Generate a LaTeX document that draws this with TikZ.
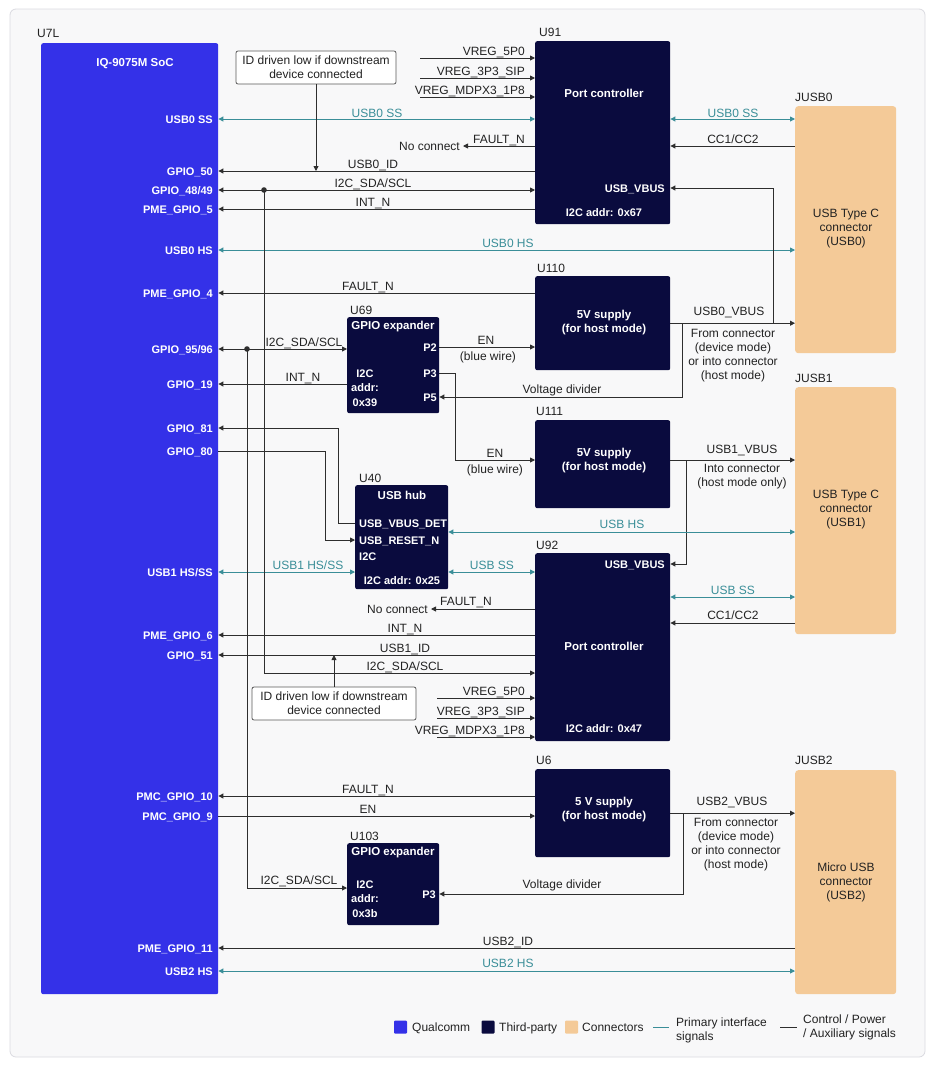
\documentclass[tikz,border=0pt]{standalone}
\usepackage{fontspec}
\setmainfont{Liberation Sans}
\usetikzlibrary{arrows.meta}

\definecolor{socblue}{HTML}{3431E8}
\definecolor{chipnavy}{HTML}{0A0B3E}
\definecolor{jackpeach}{HTML}{F4CA98}
\definecolor{sigteal}{HTML}{3A8E98}
\definecolor{sigdark}{HTML}{2E2E2E}
\definecolor{txtdark}{HTML}{222222}
\definecolor{panelfill}{HTML}{F8F8F9}
\definecolor{panelrim}{HTML}{DADAE0}
\definecolor{calloutrim}{HTML}{5A5A5A}

\begin{document}
\begin{tikzpicture}[x=1pt, y=-1pt, >={Triangle[length=5pt,width=5pt]},
  every node/.style={font=\fontsize{12}{14}\selectfont, text=txtdark, inner sep=0pt},
  lbl/.style={text height=10pt, text depth=2pt},
  hst/.style={lbl, text=sigteal},
  desig/.style={lbl, anchor=west},
  socpin/.style={lbl, anchor=east, text=white, font=\fontsize{11}{13}\selectfont\bfseries},
  inw/.style={lbl, text=white, font=\fontsize{11}{13}\selectfont\bfseries},
  ttl/.style={text=white, align=center, font=\fontsize{11.5}{14}\selectfont\bfseries},
  chip/.style={fill=chipnavy, rounded corners=2pt, anchor=north west},
  jack/.style={fill=jackpeach, rounded corners=3pt, anchor=north west},
  wire/.style={draw=sigdark, line width=0.9pt},
  hsl/.style={draw=sigteal, line width=0.9pt},
  callout/.style={draw=calloutrim, line width=0.8pt, fill=white, rounded corners=2pt, align=center,
    minimum width=160pt, minimum height=33pt}]

\useasboundingbox (0,0) rectangle (938,1066);
\filldraw[fill=panelfill, draw=panelrim, line width=0.8pt, rounded corners=6pt] (10,9) rectangle (925,1057);

% blocks
\node[fill=socblue, rounded corners=2pt, anchor=north west, minimum width=177pt, minimum height=951pt] (soc) at (41,43) {};
\node[chip, minimum width=135pt, minimum height=183pt] (u91) at (535,41) {};
\node[chip, minimum width=135pt, minimum height=94pt] (u110) at (535,276) {};
\node[chip, minimum width=92pt, minimum height=96pt] (u69) at (347,317) {};
\node[chip, minimum width=135pt, minimum height=88pt] (u111) at (535,420) {};
\node[chip, minimum width=93pt, minimum height=104pt] (u40) at (355,485) {};
\node[chip, minimum width=135pt, minimum height=188pt] (u92) at (535,553) {};
\node[chip, minimum width=135pt, minimum height=88pt] (u6) at (535,769) {};
\node[chip, minimum width=92pt, minimum height=82pt] (u103) at (347,843) {};
\node[jack, minimum width=101pt, minimum height=247pt] (jusb0) at (795,106) {};
\node[jack, minimum width=101pt, minimum height=247pt] (jusb1) at (795,387) {};
\node[jack, minimum width=101pt, minimum height=224pt] (jusb2) at (795,770) {};

\node[desig] (n7l) at (37,33) {U7L};
\node[desig] (n91) at (539,32) {U91};
\node[desig] (n110) at (537,268) {U110};
\node[desig] (n69) at (350,310) {U69};
\node[desig] (n111) at (536,411) {U111};
\node[desig] (n40) at (359,478) {U40};
\node[desig] (n92) at (536,545) {U92};
\node[desig] (n6) at (536,760) {U6};
\node[desig] (n103) at (350,836) {U103};
\node[desig] (nj0) at (795,97) {JUSB0};
\node[desig] (nj1) at (795,378) {JUSB1};
\node[desig] (nj2) at (795,760) {JUSB2};

\node[ttl] (tsoc) at (135,64) {IQ-9075M SoC};
\node[ttl] (t91) at (604,93) {Port controller};
\node[ttl] (t110) at (604,323) {5V supply\\(for host mode)};
\node[ttl] (t69) at (393,327) {GPIO expander};
\node[ttl] (t111) at (604,461) {5V supply\\(for host mode)};
\node[ttl] (t40) at (402,495) {USB hub};
\node[ttl] (t92) at (604,646) {Port controller};
\node[ttl] (t6) at (604,810) {5 V supply\\(for host mode)};
\node[ttl] (t103) at (393,853) {GPIO expander};

\node[inw] (a91) at (604,212) {I2C addr: 0x67};
\node[inw] (a40) at (402,580) {I2C addr: 0x25};
\node[inw] (a92) at (604,728) {I2C addr: 0x47};
\node[ttl, font=\fontsize{11}{14.5}\selectfont\bfseries, anchor=west] (a69) at (351,388) {I2C\\addr:\\0x39};
\node[ttl, font=\fontsize{11}{14.5}\selectfont\bfseries, anchor=west] (a103) at (351,899) {I2C\\addr:\\0x3b};
\node[inw, anchor=east] (l91v) at (665,188) {USB\_VBUS};
\node[inw, anchor=east] (l92v) at (665,564) {USB\_VBUS};
\node[inw, anchor=east] (lp2) at (437,347) {P2};
\node[inw, anchor=east] (lp3) at (437,373) {P3};
\node[inw, anchor=east] (lp5) at (437,397) {P5};
\node[inw, anchor=east] (lq3) at (436,894) {P3};
\node[inw, anchor=west] (l40a) at (359,523) {USB\_VBUS\_DET};
\node[inw, anchor=west] (l40b) at (359,540) {USB\_RESET\_N};
\node[inw, anchor=west] (l40c) at (359,556) {I2C};

\node[align=center] (c0) at (846,229) {USB Type C\\connector\\(USB0)};
\node[align=center] (c1) at (846,510) {USB Type C\\connector\\(USB1)};
\node[align=center] (c2) at (846,882) {Micro USB\\connector\\(USB2)};

\foreach \nm/\yy/\txt in {pusb0ss/119/{USB0 SS}, p50/171/GPIO\_50, p48/190/{GPIO\_48/49},
    p5/209/PME\_GPIO\_5, pusb0hs/250/{USB0 HS}, p4/293/PME\_GPIO\_4, p95/349/{GPIO\_95/96},
    p19/384/GPIO\_19, p81/428/GPIO\_81, p80/451/GPIO\_80, pusb1/572/{USB1 HS/SS},
    p6/635/PME\_GPIO\_6, p51/655/GPIO\_51, p10/796/PMC\_GPIO\_10, p9/816/PMC\_GPIO\_9,
    p11/948/PME\_GPIO\_11, pusb2/971/{USB2 HS}}
  \node[socpin] (\nm) at (213,\yy) {\txt};

% U91 port controller
\foreach \yy/\txt [count=\i] in {58/VREG\_5P0, 78/VREG\_3P3\_SIP, 97/VREG\_MDPX3\_1P8} {
  \coordinate (va\i) at (420,\yy);
  \draw[wire,->] (va\i) -- (u91.west |- va\i);
  \node[lbl, anchor=east] (vla\i) at (525,{\yy-7}) {\txt};
}
\draw[hsl,<->] (soc.east |- pusb0ss) -- (u91.west |- pusb0ss);
\node[hst] (lss0) at (377,113) {USB0 SS};
\node[lbl, anchor=east, inner xsep=3pt] (nc1) at (463,146) {No connect};
\draw[wire,->] (u91.west |- nc1) -- (nc1.east);
\node[lbl] (lf0) at (499,139) {FAULT\_N};
\draw[hsl,<->] (u91.east |- pusb0ss) -- (jusb0.west |- pusb0ss);
\node[hst] (lss0b) at (733,113) {USB0 SS};
\draw[wire,->] (jusb0.west |- nc1) -- (u91.east |- nc1);
\node[lbl] (lcc0) at (733,139) {CC1/CC2};
\node[callout] (call0) at (316,67.5) {ID driven low if downstream\\device connected};
\draw[wire,->] (u91.west |- p50) -- (soc.east |- p50);
\draw[wire,->] (call0.south) -- (call0.south |- p50);
\node[lbl] (lid0) at (373,164) {USB0\_ID};
\draw[wire,<->] (soc.east |- p48) -- (u91.west |- p48);
\coordinate (j48) at (264,190);
\fill[sigdark] (j48) circle[radius=2.8pt];
\node[lbl] (li2c0) at (373,183) {I2C\_SDA/SCL};
\draw[wire,->] (u91.west |- p5) -- (soc.east |- p5);
\node[lbl] (lint0) at (373,202) {INT\_N};
\draw[hsl,<->] (soc.east |- pusb0hs) -- (jusb0.west |- pusb0hs);
\node[hst] (lhs0) at (508,243) {USB0 HS};

% U110 supply
\draw[wire,->] (u110.west |- p4) -- (soc.east |- p4);
\node[lbl] (lf110) at (368,286) {FAULT\_N};
\draw[wire,->] (u110.east) -- (jusb0.west |- u110.east);
\node[lbl] (lvb0) at (729,311) {USB0\_VBUS};
\coordinate (t0a) at (682,323);
\coordinate (t0b) at (773,323);
\draw[wire,->] (t0a) |- (u69.east |- lp5);
\draw[wire,->] (t0b) |- (u91.east |- l91v);
\node[lbl] (lvd0) at (562,389) {Voltage divider};
\node[align=center] (lm0) at (733,356) {From connector\\(device mode)\\or into connector\\(host mode)};

% U69 expander
\draw[wire,<->] (soc.east |- p95) -- (u69.west |- p95);
\coordinate (j95) at (247,349);
\fill[sigdark] (j95) circle[radius=2.8pt];
\node[lbl] (li2c69) at (304,342) {I2C\_SDA/SCL};
\draw[wire,->] (u69.west |- p19) -- (soc.east |- p19);
\node[lbl] (lint69) at (303,377) {INT\_N};
\draw[wire,->] (u69.east |- lp2) -- (u110.west |- lp2);
\node[lbl] (len0) at (486,340) {EN};
\node[lbl] (lbw0) at (488,356) {(blue wire)};
\coordinate (b3) at (455,460);
\draw[wire,->] (u69.east |- lp3) -| (b3) -- (u111.west |- b3);
\node[lbl] (len1) at (495,453) {EN};
\node[lbl] (lbw1) at (495,469) {(blue wire)};

% U111 supply
\draw[wire,->] (u111.east |- b3) -- (jusb1.west |- b3);
\node[lbl] (lvb1) at (742,449) {USB1\_VBUS};
\coordinate (t1) at (686,460);
\draw[wire,->] (t1) |- (u92.east |- l92v);
\node[align=center] (lm1) at (742,477) {Into connector\\(host mode only)};

% U40 hub
\coordinate (b81) at (338,428);
\coordinate (b80) at (325,540);
\draw[wire,->] (u40.west |- l40a) -| (b81) -- (soc.east |- p81);
\draw[wire,->] (soc.east |- p80) -| (b80) -- (u40.west |- l40b);
\draw[hsl,<->] (soc.east |- pusb1) -- (u40.west |- pusb1);
\node[hst] (lhs1) at (308,565) {USB1 HS/SS};
\draw[hsl,<->] (u40.east |- pusb1) -- (u92.west |- pusb1);
\node[hst] (lss1) at (492,565) {USB SS};
\coordinate (hsrow) at (622,532);
\draw[hsl,<->] (u40.east |- hsrow) -- (jusb1.west |- hsrow);
\node[hst] (lhs1b) at (622,524) {USB HS};

% U92 port controller
\coordinate (ssrow) at (733,597);
\coordinate (ccrow) at (733,623);
\draw[hsl,<->] (u92.east |- ssrow) -- (jusb1.west |- ssrow);
\node[hst] (lss1b) at (733,590) {USB SS};
\draw[wire,->] (jusb1.west |- ccrow) -- (u92.east |- ccrow);
\node[lbl] (lcc1) at (733,615) {CC1/CC2};
\node[lbl, anchor=east, inner xsep=3pt] (nc2) at (431,609) {No connect};
\draw[wire,->] (u92.west |- nc2) -- (nc2.east);
\node[lbl] (lf92) at (466,601) {FAULT\_N};
\draw[wire,->] (u92.west |- p6) -- (soc.east |- p6);
\node[lbl] (lint92) at (405,628) {INT\_N};
\draw[wire,->] (u92.west |- p51) -- (soc.east |- p51);
\node[lbl] (lid1) at (405,648) {USB1\_ID};
\node[callout, minimum width=164pt] (call1) at (334,703.5) {ID driven low if downstream\\device connected};
\draw[wire,->] (call1.north) -- (call1.north |- p51);
\coordinate (i2crow) at (405,673);
\draw[wire,->] (j48) |- (u92.west |- i2crow);
\node[lbl] (li2c92) at (405,666) {I2C\_SDA/SCL};
\foreach \yy/\txt [count=\i] in {698/VREG\_5P0, 718/VREG\_3P3\_SIP, 737/VREG\_MDPX3\_1P8} {
  \coordinate (vb\i) at (437,\yy);
  \draw[wire,->] (vb\i) -- (u92.west |- vb\i);
  \node[lbl, anchor=east] (vlb\i) at (525,{\yy-7}) {\txt};
}

% U6 supply
\draw[wire,->] (u6.west |- p10) -- (soc.east |- p10);
\node[lbl] (lf6) at (368,789) {FAULT\_N};
\draw[wire,->] (soc.east |- p9) -- (u6.west |- p9);
\node[lbl] (len6) at (368,809) {EN};
\draw[wire,->] (u6.east) -- (jusb2.west |- u6.east);
\node[lbl] (lvb2) at (732,801) {USB2\_VBUS};
\coordinate (t2) at (683,813);
\draw[wire,->] (t2) |- (u103.east |- lq3);
\node[lbl] (lvd2) at (562,884) {Voltage divider};
\node[align=center] (lm2) at (736,845) {From connector\\(device mode)\\or into connector\\(host mode)};

% U103 expander
\coordinate (i2c103) at (299,888);
\draw[wire,->] (j95) |- (u103.west |- i2c103);
\node[lbl] (li2c103) at (299,880) {I2C\_SDA/SCL};

% JUSB2
\draw[wire,->] (jusb2.west |- p11) -- (soc.east |- p11);
\node[lbl] (lid2) at (508,941) {USB2\_ID};
\draw[hsl,<->] (soc.east |- pusb2) -- (jusb2.west |- pusb2);
\node[hst] (lhs2) at (508,963) {USB2 HS};

% legend
\node[fill=socblue, minimum size=13pt, rounded corners=1pt] (kq) at (400.5,1027) {};
\node[lbl, anchor=west] (kqt) at (412,1027) {Qualcomm};
\node[fill=chipnavy, minimum size=13pt, rounded corners=1pt] (kt) at (488,1027) {};
\node[lbl, anchor=west] (ktt) at (499,1027) {Third-party};
\node[fill=jackpeach, minimum size=13pt, rounded corners=1pt] (kc) at (571.5,1027) {};
\node[lbl, anchor=west] (kct) at (582,1027) {Connectors};
\coordinate (kp) at (653,1027);
\draw[hsl] (kp) -- ++(16,0);
\node[anchor=west, align=left] (kpt) at (676,1030) {Primary interface\\signals};
\coordinate (ka) at (780,1027);
\draw[wire] (ka) -- ++(17,0);
\node[anchor=west, align=left] (kat) at (803,1027) {Control / Power\\/ Auxiliary signals};

\end{tikzpicture}
\end{document}
